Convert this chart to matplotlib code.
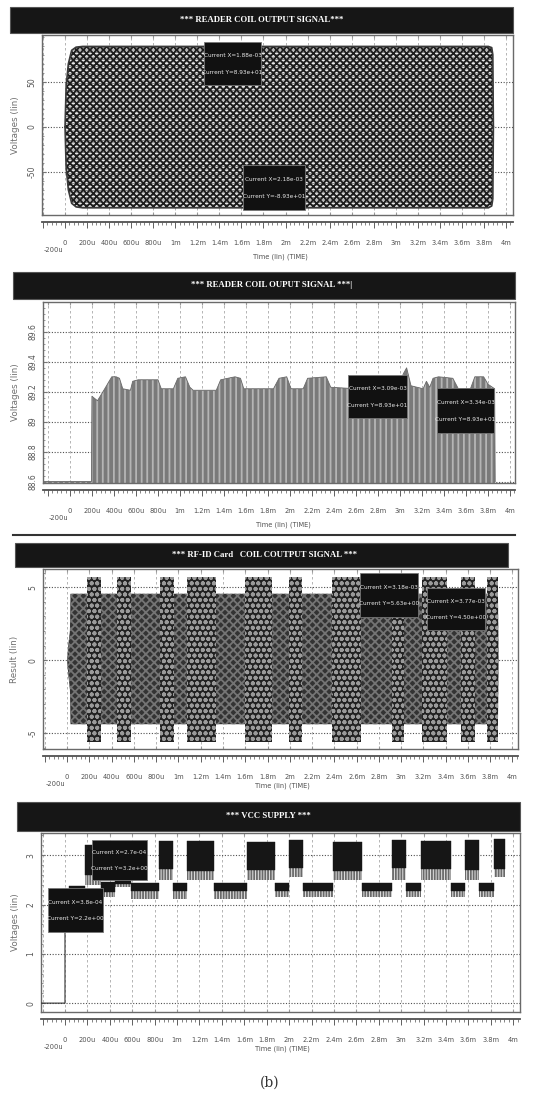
import numpy as np
import matplotlib
matplotlib.use('Agg')
import matplotlib.pyplot as plt
from matplotlib.patches import Rectangle
from matplotlib.ticker import FixedLocator, MultipleLocator
from matplotlib.transforms import ScaledTranslation

# ---------------------------------------------------------------------------
# data (time in ms)
# ---------------------------------------------------------------------------
xticks = [-0.2, 0, 0.2, 0.4, 0.6, 0.8, 1.0, 1.2, 1.4, 1.6, 1.8, 2.0,
          2.2, 2.4, 2.6, 2.8, 3.0, 3.2, 3.4, 3.6, 3.8, 4.0]
xlabels = ['-200u', '0', '200u', '400u', '600u', '800u', '1m', '1.2m', '1.4m',
           '1.6m', '1.8m', '2m', '2.2m', '2.4m', '2.6m', '2.8m', '3m', '3.2m',
           '3.4m', '3.6m', '3.8m', '4m']

# panel 1 : reader coil output, envelope of the carrier
t1 = [0.0, 0.01, 0.03, 0.06, 0.10, 0.16, 3.84, 3.87, 3.88, 3.885]
hi1 = [0, 45, 70, 85, 88.5, 89.3, 89.3, 88, 80, 0]
lo1 = [0, -45, -70, -85, -89, -90, -90, -88, -80, 0]

# panel 2 : reader coil output, zoom on peaks
t2 = [-0.25, 0.195, 0.20, 0.25, 0.30, 0.34, 0.38, 0.42, 0.45, 0.48, 0.55,
      0.57, 0.62, 0.80, 0.83, 0.94, 0.98, 1.05, 1.09, 1.12, 1.33, 1.37, 1.50,
      1.55, 1.58, 1.85, 1.90, 1.97, 2.01, 2.12, 2.16, 2.33, 2.37, 2.60, 2.98,
      3.03, 3.06, 3.10, 3.21, 3.24, 3.27, 3.30, 3.35, 3.48, 3.53, 3.64, 3.68,
      3.76, 3.80, 3.86, 3.865]
hi2 = [88.6, 88.6, 89.17, 89.14, 89.2, 89.25, 89.3, 89.3, 89.29, 89.22, 89.21,
       89.27, 89.28, 89.28, 89.22, 89.22, 89.29, 89.3, 89.23, 89.21, 89.21,
       89.28, 89.3, 89.29, 89.22, 89.22, 89.29, 89.3, 89.22, 89.22, 89.29,
       89.3, 89.23, 89.22, 89.22, 89.32, 89.36, 89.24, 89.22, 89.27, 89.23,
       89.29, 89.3, 89.29, 89.22, 89.22, 89.3, 89.3, 89.25, 89.22, 88.6]

# panel 3 : RF-ID card coil output
t3 = [0.0, 0.01, 0.025, 0.03, 3.87, 3.875]
hi3 = [0, 1.0, 2.0, 4.55, 4.55, 0]
lo3 = [0, -1.0, -2.0, -4.4, -4.4, 0]
burst_start = [0.18, 0.45, 0.83, 1.08, 1.60, 1.99, 2.38, 2.92, 3.19, 3.54, 3.77]
burst_end = [0.30, 0.57, 0.96, 1.34, 1.84, 2.11, 2.64, 3.03, 3.41, 3.66, 3.87]
burst_hi = 5.7
burst_lo = -5.6

# panel 4 : VCC supply, segments (start, end, top, bottom, spike floor)
seg_start = [0.04, 0.18, 0.32, 0.45, 0.59, 0.84, 0.96, 1.09, 1.33, 1.62, 1.87,
             2.00, 2.12, 2.39, 2.65, 2.92, 3.04, 3.18, 3.44, 3.57, 3.69, 3.83]
seg_end = seg_start[1:] + [3.93]
seg_top = [2.38, 3.2, 2.45, 2.5, 2.44, 3.28, 2.44, 3.28, 2.44, 3.27, 2.44,
           3.31, 2.44, 3.26, 2.44, 3.30, 2.44, 3.28, 2.44, 3.30, 2.44, 3.33]
seg_bot = [2.28, 2.6, 2.25, 2.42, 2.28, 2.72, 2.28, 2.68, 2.28, 2.70, 2.28,
           2.75, 2.28, 2.68, 2.28, 2.75, 2.28, 2.72, 2.28, 2.70, 2.28, 2.72]
seg_spike = [2.2, 2.4, 2.15, 2.35, 2.12, 2.5, 2.12, 2.5, 2.12, 2.5, 2.15,
             2.55, 2.15, 2.5, 2.15, 2.5, 2.15, 2.5, 2.15, 2.5, 2.15, 2.55]
t4 = [-0.21, 0.0, 0.0, 0.02, 0.04]
v4 = [0.0, 0.0, 1.6, 2.2, 2.3]

# ---------------------------------------------------------------------------
W, H = 539, 1095
fig = plt.figure(figsize=(W / 100, H / 100), dpi=100)
fig.patch.set_facecolor('white')
plt.rcParams['hatch.linewidth'] = 1.3
FONT = 'DejaVu Sans'


def rect(x0, y0, x1, y1):
    return [x0 / W, 1 - y1 / H, (x1 - x0) / W, (y1 - y0) / H]


def title_bar(x0, y0, x1, y1, text, xc=None):
    fig.add_artist(Rectangle((x0 / W, 1 - y1 / H), (x1 - x0) / W, (y1 - y0) / H,
                             transform=fig.transFigure, facecolor='#161616',
                             edgecolor='#555555', lw=0.8))
    if xc is None:
        xc = (x0 + x1) / 2
    fig.text(xc / W, 1 - (y0 + y1) / 2 / H, text, color='white', fontsize=6.3,
             family='Liberation Serif', weight='bold', ha='center', va='center')


def cursor_box(x0, y0, x1, y1, lines):
    fig.add_artist(Rectangle((x0 / W, 1 - y1 / H), (x1 - x0) / W, (y1 - y0) / H,
                             transform=fig.transFigure, facecolor='#111111',
                             edgecolor='#777777', lw=0.6, zorder=10))
    h = y1 - y0
    for i, s in enumerate(lines):
        yy = y0 + h * (0.32 + 0.38 * i)
        fig.text((x0 + x1) / 2 / W, 1 - yy / H, s, color='#e8e8e8', fontsize=4.6,
                 family=FONT, fontstretch='condensed', ha='center', va='center',
                 zorder=11)


def panel(box, xlim, ylim, yticks, ylabels, yminor, ylabel, xlabel_y, xc):
    x0, y0, x1, y1 = box
    ax = fig.add_axes(rect(x0, y0, x1, y1))
    ax.set_xlim(*xlim)
    ax.set_ylim(*ylim)
    ax.set_facecolor('white')
    for sp in ax.spines.values():
        sp.set_color('#6a6a6a')
        sp.set_linewidth(1.0)
    ax.xaxis.set_major_locator(FixedLocator(xticks))
    ax.tick_params(axis='x', which='both', length=2, direction='in',
                   labelbottom=False, top=True, color='#999999')
    ax.yaxis.set_major_locator(FixedLocator(yticks))
    ax.set_yticklabels(ylabels, rotation=90, va='center', fontsize=5.5,
                       family=FONT, color='#555555')
    ax.yaxis.set_minor_locator(MultipleLocator(yminor))
    ax.tick_params(axis='y', which='major', length=3, direction='in', pad=4,
                   color='#777777')
    ax.tick_params(axis='y', which='minor', length=1.5, direction='in',
                   color='#888888')
    ax.grid(axis='x', color='#a8a8a8', linestyle=(0, (3, 3)), linewidth=0.6)
    ax.grid(axis='y', color='#505050', linestyle=(0, (1, 1.5)), linewidth=0.8)
    ax.set_axisbelow(True)

    # ruler axis under the plot
    sec = ax.secondary_xaxis(-7 / (y1 - y0))
    sec.set_xticks(xticks)
    sec.set_xticklabels(xlabels, fontsize=5.3, family=FONT,
                        fontstretch='condensed', color='#505050')
    sec.xaxis.set_minor_locator(MultipleLocator(0.04))
    sec.tick_params(axis='x', which='major', length=4, width=0.7, pad=9,
                    color='#606060')
    sec.tick_params(axis='x', which='minor', length=2.5, width=0.6,
                    color='#707070')
    sec.spines['bottom'].set_color('#505050')
    sec.spines['bottom'].set_linewidth(1.3)
    lab = sec.get_xticklabels()[0]
    lab.set_ha('left')
    lab.set_transform(lab.get_transform() +
                      ScaledTranslation(1 / 100, -7 / 100, fig.dpi_scale_trans))

    fig.text(xc / W, 1 - xlabel_y / H, 'Time (lin) (TIME)', fontsize=5.3,
             family=FONT, fontstretch='condensed', color='#505050',
             ha='center', va='center')
    fig.text(15 / W, 1 - (y0 + y1) / 2 / H, ylabel, fontsize=6.3, family=FONT,
             color='#707070', rotation=90, ha='center', va='center')
    return ax


# ---------------- panel 1 ----------------
title_bar(10, 7, 513, 33, '*** READER COIL OUTPUT SIGNAL***')
ax1 = panel((42, 35, 513, 215), (-0.209, 4.063), (-98, 102), [-50, 0, 50],
            ['-50', '0', '50'], 10, 'Voltages (lin)', 257, 280)
ax1.fill_between(t1, lo1, hi1, facecolor='#444444', edgecolor='#e8e8e8',
                 hatch='-------', linewidth=0, zorder=2)
ax1.fill_between(t1, lo1, hi1, facecolor='none', edgecolor='#1c1c1c',
                 hatch='xxxxx', linewidth=0, zorder=2)
ax1.plot(t1, hi1, t1, lo1, color='#3a3a3a', lw=1.2, zorder=3)
cursor_box(204, 42, 261, 85, ['Current X=1.88e-03', 'Current Y=8.93e+01'])
cursor_box(243, 165, 305, 210, ['Current X=2.18e-03', 'Current Y=-8.93e+01'])

# ---------------- panel 2 ----------------
title_bar(13, 272, 515, 299, '*** READER COIL OUPUT SIGNAL ***|', 272)
ax2 = panel((43, 302, 515, 483), (-0.245, 4.045), (88.59, 89.8),
            [88.6, 88.8, 89.0, 89.2, 89.4, 89.6],
            ['88.6', '88.8', '89', '89.2', '89.4', '89.6'], 0.04,
            'Voltages (lin)', 525, 283)
ax2.fill_between(t2, 88.59, hi2, facecolor='#7a7a7a', edgecolor='#b5b5b5',
                 hatch='|||', linewidth=0, zorder=2)
ax2.plot(t2, hi2, color='#6a6a6a', lw=0.6, zorder=3)
cursor_box(348, 375, 407, 418, ['Current X=3.09e-03', 'Current Y=8.93e+01'])
cursor_box(437, 388, 494, 433, ['Current X=3.34e-03', 'Current Y=8.93e+01'])
fig.add_artist(plt.Line2D([13 / W, 515 / W], [1 - 535 / H, 1 - 535 / H],
                          color='#333333', lw=1.5))

# ---------------- panel 3 ----------------
title_bar(15, 543, 508, 567, '*** RF-ID Card   COIL COUTPUT SIGNAL ***', 265)
ax3 = panel((43, 569, 518, 749), (-0.217, 4.05), (-6.1, 6.25), [-5, 0, 5],
            ['-5', '0', '5'], 1, 'Result (lin)', 786, 282)
ax3.fill_between(t3, lo3, hi3, facecolor='#333333', edgecolor='#747474',
                 hatch='xxxx', linewidth=0, zorder=2)
bw = [e - s for s, e in zip(burst_start, burst_end)]
ax3.bar(burst_start, burst_hi - burst_lo, width=bw, bottom=burst_lo,
        align='edge', facecolor='#222222', edgecolor='#9a9a9a', hatch='ooo',
        linewidth=0, zorder=3)
cursor_box(360, 573, 418, 617, ['Current X=3.18e-03', 'Current Y=5.63e+00'])
cursor_box(427, 588, 485, 630, ['Current X=3.77e-03', 'Current Y=4.50e+00'])

# ---------------- panel 4 ----------------
title_bar(17, 802, 520, 831, '*** VCC SUPPLY ***', 268)
ax4 = panel((41, 833, 520, 1012), (-0.214, 4.06), (-0.18, 3.45), [0, 1, 2, 3],
            ['0', '1', '2', '3'], 0.2, 'Voltages (lin)', 1049, 282)
sw = [e - s for s, e in zip(seg_start, seg_end)]
sh = [b - s for b, s in zip(seg_bot, seg_spike)]
ax4.bar(seg_start, sh, width=sw, bottom=seg_spike, align='edge',
        facecolor='#e4e4e4', edgecolor='#6a6a6a', hatch='||||||', linewidth=0,
        zorder=2)
mh = [t - b for t, b in zip(seg_top, seg_bot)]
ax4.bar(seg_start, mh, width=sw, bottom=seg_bot, align='edge',
        facecolor='#161616', edgecolor='#161616', linewidth=0.3, zorder=3)
ax4.plot(t4, v4, color='#333333', lw=0.8, zorder=3)
cursor_box(92, 840, 147, 880, ['Current X=2.7e-04', 'Current Y=3.2e+00'])
cursor_box(48, 888, 103, 932, ['Current X=3.8e-04', 'Current Y=2.2e+00'])

fig.text(270 / W, 1 - 1083 / H, '(b)', fontsize=10, family='DejaVu Serif',
         color='#333333', ha='center', va='center')

fig.savefig('out.png', dpi=100)
